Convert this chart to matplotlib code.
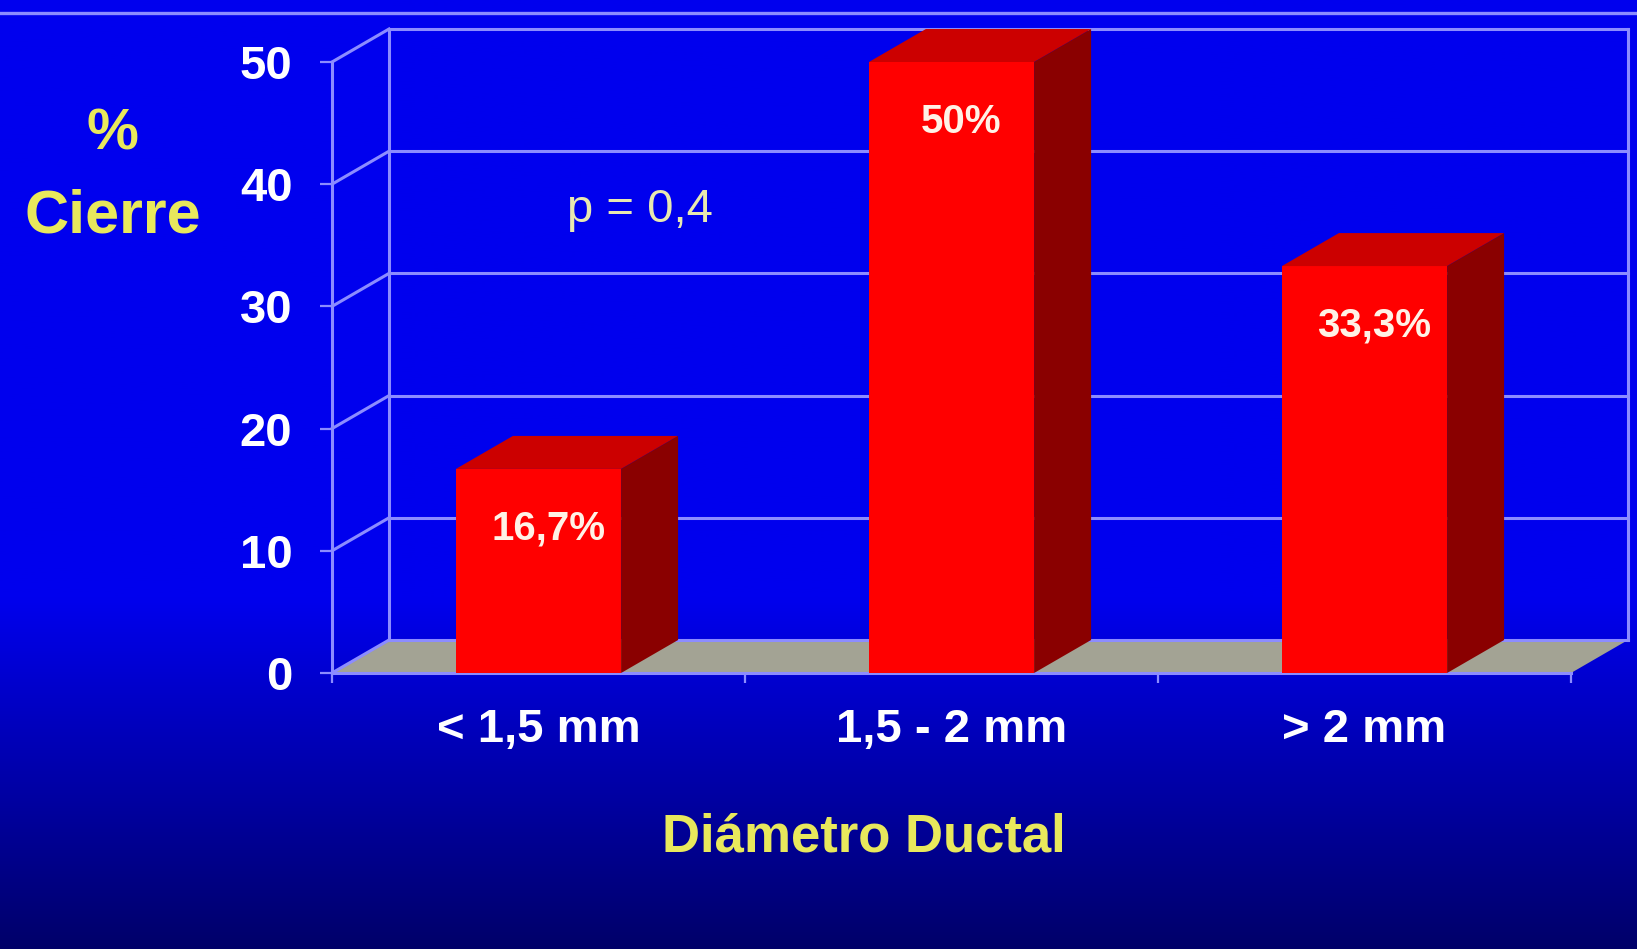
# -*- coding: utf-8 -*-
import numpy as np
import matplotlib
matplotlib.use("Agg")
import matplotlib.pyplot as plt
from matplotlib.patches import Polygon
from matplotlib.lines import Line2D

categories = ["< 1,5 mm", "1,5 - 2 mm", "> 2 mm"]
cierre = [16.7, 50.0, 33.3]
barLabels = ["16,7%", "50%", "33,3%"]
yTicks = [0, 10, 20, 30, 40, 50]

W, H = 1637, 949
gridColor = "#8c8cff"
yellow = "#e8e85c"
fontName = "Liberation Sans"

# depth of the pseudo 3D box, in data units
depthX = 0.138
depthY = 2.7
barWidth = 0.4

fig = plt.figure(figsize=(W / 100, H / 100), dpi=100)

# blue slide background, darker towards the bottom
bg = fig.add_axes([0, 0, 1, 1], zorder=-10)
t = np.linspace(0, 1, 500)
blue = np.where(t < 0.63, 238, 238 - (t - 0.63) / 0.37 * 133) / 255.0
grad = np.zeros((500, 2, 3))
grad[:, :, 2] = blue[:, None]
bg.imshow(grad, aspect="auto", extent=[0, 1, 0, 1])
bg.set_axis_off()

fig.add_artist(Line2D([0, 1], [1 - 13 / H, 1 - 13 / H], color=gridColor, lw=2.4))

ax = fig.add_axes([332 / W, 1 - 673 / H, (1571 - 332) / W, (673 - 62) / H])
ax.set_xlim(-0.5, 2.5)
ax.set_ylim(0, 50)
ax.patch.set_alpha(0)
for s in ax.spines.values():
    s.set_visible(False)

xLeft, xRight = -0.5, len(categories) - 0.5

# floor
floor = Polygon([(xLeft, 0), (xRight, 0), (xRight + depthX, depthY), (xLeft + depthX, depthY)],
                closed=True, facecolor="#a3a394", edgecolor="none", zorder=1, clip_on=False)
ax.add_patch(floor)

# back wall and side wall grid
lineKw = dict(color=gridColor, lw=2.2, zorder=2, clip_on=False)
for y in yTicks:
    ax.plot([xLeft + depthX, xRight + depthX], [y + depthY, y + depthY], **lineKw)
    ax.plot([xLeft, xLeft + depthX], [y, y + depthY], **lineKw)
ax.plot([xLeft + depthX] * 2, [depthY, 50 + depthY], **lineKw)
ax.plot([xRight + depthX] * 2, [depthY, 50 + depthY], **lineKw)
ax.plot([xLeft, xLeft], [0, 50], **lineKw)
ax.plot([xLeft, xRight], [0, 0], **lineKw)

# bars: front face, top and right side
x = np.arange(len(categories))
ax.bar(x, cierre, width=barWidth, color="#ff0000", zorder=4)
for xi, v in zip(x, cierre):
    l, r = xi - barWidth / 2, xi + barWidth / 2
    top = Polygon([(l, v), (r, v), (r + depthX, v + depthY), (l + depthX, v + depthY)],
                  closed=True, facecolor="#cc0000", edgecolor="none", zorder=5, clip_on=False)
    side = Polygon([(r, 0), (r + depthX, depthY), (r + depthX, v + depthY), (r, v)],
                   closed=True, facecolor="#8a0000", edgecolor="none", zorder=5, clip_on=False)
    ax.add_patch(top)
    ax.add_patch(side)

for xi, v, lab in zip(x, cierre, barLabels):
    ax.annotate(lab, xy=(xi, v), xytext=(7, -43), textcoords="offset points",
                ha="center", va="center", color="#fff2e6", fontsize=29,
                fontweight="bold", family=fontName, zorder=6)

# ticks
ax.set_yticks(yTicks)
ax.set_yticklabels([str(v) for v in yTicks])
ax.tick_params(axis="y", direction="out", length=8.5, width=1.6, color=gridColor,
               labelcolor="white", labelsize=34, pad=20)
ax.set_xticks([xLeft, 0.5, 1.5, xRight])
ax.set_xticklabels([])
ax.tick_params(axis="x", which="major", direction="out", length=7, width=1.6, color=gridColor)
ax.set_xticks(x, categories, minor=True)
ax.tick_params(axis="x", which="minor", length=0, labelcolor="white", labelsize=34, pad=25)
for lab in ax.get_xticklabels(minor=True) + ax.get_yticklabels():
    lab.set_fontweight("bold")
    lab.set_family(fontName)

fig.text(112 / W, 1 - 135 / H, "%", ha="center", va="center", color=yellow,
         fontsize=42, fontweight="bold", family=fontName)
fig.text(113 / W, 1 - 217 / H, "Cierre", ha="center", va="center", color=yellow,
         fontsize=44, fontweight="bold", family=fontName)
fig.text(640 / W, 1 - 210 / H, "p = 0,4", ha="center", va="center", color="#e8e8b0",
         fontsize=34, family=fontName)
fig.text(864 / W, 1 - 838 / H, "Diámetro Ductal", ha="center", va="center", color=yellow,
         fontsize=38, fontweight="bold", family=fontName)

fig.savefig("out.png", dpi=100)
